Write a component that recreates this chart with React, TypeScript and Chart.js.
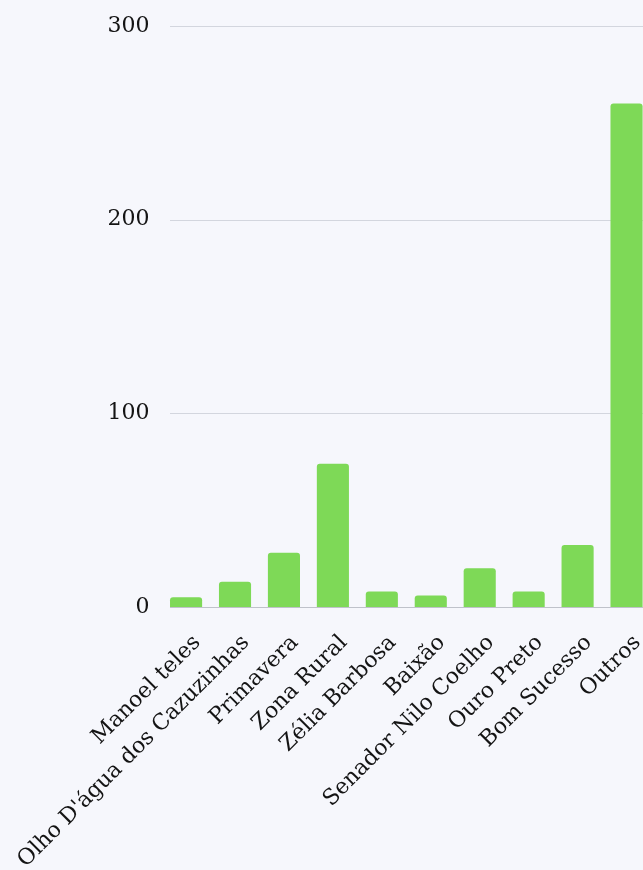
import React, { useEffect, useRef } from "react";
import { Chart, registerables } from "chart.js";

Chart.register(...registerables);

const categories = [
  "Manoel teles",
  "Olho D'água dos Cazuzinhas",
  "Primavera",
  "Zona Rural",
  "Zélia Barbosa",
  "Baixão",
  "Senador Nilo Coelho",
  "Ouro Preto",
  "Bom Sucesso",
  "Outros",
];
const values = [5, 13, 28, 74, 8, 6, 20, 8, 32, 260];
const yTicks = [0, 100, 200, 300];

const FONT = "'DejaVu Serif', serif";
const GRID_COLOR = "#d3d6de";
const BASE_COLOR = "#bfc2ca";

// Grid lines that start at the left edge of the first bar (as in the reference)
const gridFromFirstBar = {
  id: "gridFromFirstBar",
  beforeDatasetsDraw(chart: any) {
    const meta = chart.getDatasetMeta(0);
    const first = meta.data[0];
    if (!first) return;
    const { width } = first.getProps(["width"], true);
    const x0 = first.x - width / 2;
    const x1 = chart.chartArea.right;
    const yScale = chart.scales.y;
    const ctx = chart.ctx;
    ctx.save();
    ctx.lineWidth = 1;
    yScale.ticks.forEach((t: any) => {
      const y = Math.round(yScale.getPixelForValue(t.value)) + 0.5;
      ctx.strokeStyle = t.value === 0 ? BASE_COLOR : GRID_COLOR;
      ctx.beginPath();
      ctx.moveTo(x0, y);
      ctx.lineTo(x1, y);
      ctx.stroke();
    });
    ctx.restore();
  },
};

export default function App() {
  const ref = useRef<HTMLCanvasElement | null>(null);
  useEffect(() => {
    if (!ref.current) return;
    const chart = new Chart(ref.current, {
      type: "bar",
      data: {
        labels: categories,
        datasets: [
          {
            data: values,
            backgroundColor: "#7ed957",
            borderRadius: { topLeft: 3, topRight: 3 },
            borderSkipped: "bottom",
            barPercentage: 0.82,
            categoryPercentage: 0.8,
          },
        ],
      },
      plugins: [gridFromFirstBar],
      options: {
        animation: false,
        responsive: false,
        layout: { padding: { top: 26, left: 0, right: 0, bottom: 0 } },
        plugins: { legend: { display: false }, tooltip: { enabled: false } },
        scales: {
          x: {
            offset: true,
            grid: { display: false },
            border: { display: false },
            ticks: {
              color: "#141414",
              font: { family: FONT, size: 22 },
              maxRotation: 45,
              minRotation: 45,
              autoSkip: false,
              padding: 15,
              labelOffset: 11,
            },
            afterFit: (s: any) => {
              s.height = 263;
              s.paddingRight = 0;
              s.paddingLeft = 0;
            },
          },
          y: {
            min: 0,
            max: 300,
            afterBuildTicks: (s: any) => {
              s.ticks = yTicks.map((v) => ({ value: v }));
            },
            grid: { display: false, drawTicks: false },
            border: { display: false },
            ticks: {
              color: "#141414",
              font: { family: FONT, size: 22 },
              padding: 12,
            },
            afterFit: (s: any) => {
              s.width = 161.6;
            },
          },
        },
      },
    });
    return () => chart.destroy();
  }, []);
  return (
    <div
      style={{
        position: "fixed",
        left: 0,
        top: 0,
        width: 643,
        height: 870,
        overflow: "hidden",
        background: "#f6f7fc",
      }}
    >
      <canvas ref={ref} width={651} height={870} style={{ display: "block" }} />
    </div>
  );
}
